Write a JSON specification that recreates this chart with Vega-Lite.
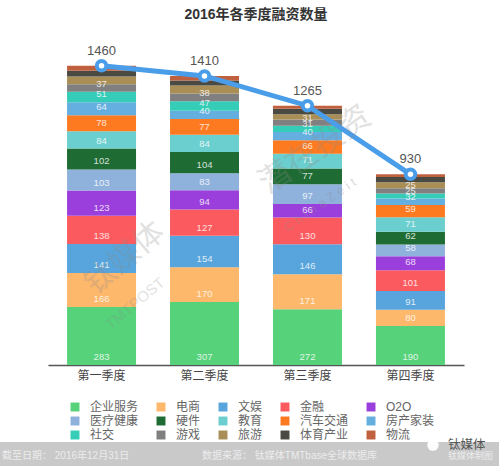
{
  "$schema": "https://vega.github.io/schema/vega-lite/v6.json",
  "description": "2016年各季度融资数量",
  "autosize": {"type": "none"},
  "width": 416,
  "height": 328,
  "padding": {"left": 48, "top": 37, "right": 35, "bottom": 101},
  "background": "white",
  "config": {"font": "Liberation Sans, Noto Sans CJK SC", "view": {"stroke": null}},
  "title": {"text": "2016年各季度融资数量", "fontSize": 14, "fontWeight": "bold", "color": "#333333", "anchor": "middle", "offset": 15},
  "datasets": {
    "totals": [
      {"q": "第一季度", "total": 1460},
      {"q": "第二季度", "total": 1410},
      {"q": "第三季度", "total": 1265},
      {"q": "第四季度", "total": 930}
    ],
    "deals": [
      {"q": "第一季度", "cat": "企业服务", "rank": 0, "n": 283},
      {"q": "第一季度", "cat": "电商", "rank": 1, "n": 166},
      {"q": "第一季度", "cat": "文娱", "rank": 2, "n": 141},
      {"q": "第一季度", "cat": "金融", "rank": 3, "n": 138},
      {"q": "第一季度", "cat": "O2O", "rank": 4, "n": 123},
      {"q": "第一季度", "cat": "医疗健康", "rank": 5, "n": 103},
      {"q": "第一季度", "cat": "硬件", "rank": 6, "n": 102},
      {"q": "第一季度", "cat": "教育", "rank": 7, "n": 84},
      {"q": "第一季度", "cat": "汽车交通", "rank": 8, "n": 78},
      {"q": "第一季度", "cat": "房产家装", "rank": 9, "n": 64},
      {"q": "第一季度", "cat": "社交", "rank": 10, "n": 51},
      {"q": "第一季度", "cat": "游戏", "rank": 11, "n": 37},
      {"q": "第一季度", "cat": "旅游", "rank": 12, "n": 37},
      {"q": "第一季度", "cat": "体育产业", "rank": 13, "n": 28},
      {"q": "第一季度", "cat": "物流", "rank": 14, "n": 25},
      {"q": "第二季度", "cat": "企业服务", "rank": 0, "n": 307},
      {"q": "第二季度", "cat": "电商", "rank": 1, "n": 170},
      {"q": "第二季度", "cat": "文娱", "rank": 2, "n": 154},
      {"q": "第二季度", "cat": "金融", "rank": 3, "n": 127},
      {"q": "第二季度", "cat": "O2O", "rank": 4, "n": 94},
      {"q": "第二季度", "cat": "医疗健康", "rank": 5, "n": 83},
      {"q": "第二季度", "cat": "硬件", "rank": 6, "n": 104},
      {"q": "第二季度", "cat": "教育", "rank": 7, "n": 84},
      {"q": "第二季度", "cat": "汽车交通", "rank": 8, "n": 77},
      {"q": "第二季度", "cat": "房产家装", "rank": 9, "n": 40},
      {"q": "第二季度", "cat": "社交", "rank": 10, "n": 47},
      {"q": "第二季度", "cat": "游戏", "rank": 11, "n": 38},
      {"q": "第二季度", "cat": "旅游", "rank": 12, "n": 38},
      {"q": "第二季度", "cat": "体育产业", "rank": 13, "n": 25},
      {"q": "第二季度", "cat": "物流", "rank": 14, "n": 22},
      {"q": "第三季度", "cat": "企业服务", "rank": 0, "n": 272},
      {"q": "第三季度", "cat": "电商", "rank": 1, "n": 171},
      {"q": "第三季度", "cat": "文娱", "rank": 2, "n": 146},
      {"q": "第三季度", "cat": "金融", "rank": 3, "n": 130},
      {"q": "第三季度", "cat": "O2O", "rank": 4, "n": 66},
      {"q": "第三季度", "cat": "医疗健康", "rank": 5, "n": 97},
      {"q": "第三季度", "cat": "硬件", "rank": 6, "n": 77},
      {"q": "第三季度", "cat": "教育", "rank": 7, "n": 71},
      {"q": "第三季度", "cat": "汽车交通", "rank": 8, "n": 66},
      {"q": "第三季度", "cat": "房产家装", "rank": 9, "n": 40},
      {"q": "第三季度", "cat": "社交", "rank": 10, "n": 31},
      {"q": "第三季度", "cat": "游戏", "rank": 11, "n": 31},
      {"q": "第三季度", "cat": "旅游", "rank": 12, "n": 25},
      {"q": "第三季度", "cat": "体育产业", "rank": 13, "n": 27},
      {"q": "第三季度", "cat": "物流", "rank": 14, "n": 15},
      {"q": "第四季度", "cat": "企业服务", "rank": 0, "n": 190},
      {"q": "第四季度", "cat": "电商", "rank": 1, "n": 80},
      {"q": "第四季度", "cat": "文娱", "rank": 2, "n": 91},
      {"q": "第四季度", "cat": "金融", "rank": 3, "n": 101},
      {"q": "第四季度", "cat": "O2O", "rank": 4, "n": 68},
      {"q": "第四季度", "cat": "医疗健康", "rank": 5, "n": 58},
      {"q": "第四季度", "cat": "硬件", "rank": 6, "n": 62},
      {"q": "第四季度", "cat": "教育", "rank": 7, "n": 71},
      {"q": "第四季度", "cat": "汽车交通", "rank": 8, "n": 59},
      {"q": "第四季度", "cat": "房产家装", "rank": 9, "n": 32},
      {"q": "第四季度", "cat": "社交", "rank": 10, "n": 25},
      {"q": "第四季度", "cat": "游戏", "rank": 11, "n": 25},
      {"q": "第四季度", "cat": "旅游", "rank": 12, "n": 30},
      {"q": "第四季度", "cat": "体育产业", "rank": 13, "n": 25},
      {"q": "第四季度", "cat": "物流", "rank": 14, "n": 13}
    ]
  },
  "resolve": {"scale": {"x": "independent"}},
  "layer": [
    {
      "data": {"values": [{}]},
      "mark": {"type": "rect", "color": "#c9c9c9"},
      "encoding": {
        "x": {"datum": -2, "type": "quantitative", "scale": {"domain": [48, 464]}, "axis": null},
        "x2": {"datum": 501},
        "y": {"datum": -376, "type": "quantitative", "scale": {"domain": [0, 1600], "nice": false}, "axis": null},
        "y2": {"datum": -500}
      }
    },
    {
      "data": {"name": "deals"},
      "transform": [
        {"stack": "n", "groupby": ["q"], "sort": [{"field": "rank", "order": "ascending"}], "as": ["y0", "y1"]}
      ],
      "encoding": {
        "x": {
          "field": "q",
          "type": "nominal",
          "sort": ["第一季度", "第二季度", "第三季度", "第四季度"],
          "scale": {"paddingInner": 0.33, "paddingOuter": 0.185},
          "axis": {"title": null, "labelAngle": 0, "labelFontSize": 12, "labelColor": "#444444", "labelPadding": 5, "ticks": false, "domainColor": "#555555", "domainWidth": 1.5, "grid": false}
        }
      },
      "layer": [
        {
          "mark": {"type": "bar"},
          "encoding": {
            "y": {
              "field": "y0",
              "type": "quantitative",
              "scale": {"domain": [0, 1600], "nice": false},
              "axis": {"title": null, "values": [0, 400, 800, 1200, 1600], "domain": false, "ticks": false, "labelFontSize": 12, "labelColor": "#444444", "labelPadding": 12, "gridColor": "#e4e4e4"}
            },
            "y2": {"field": "y1"},
            "color": {
              "field": "cat",
              "type": "nominal",
              "scale": {
                "domain": ["企业服务", "电商", "文娱", "金融", "O2O", "医疗健康", "硬件", "教育", "汽车交通", "房产家装", "社交", "游戏", "旅游", "体育产业", "物流"],
                "range": ["#55d27a", "#fdb86c", "#57a5dc", "#fb5a5e", "#9b3fdc", "#8fb2dc", "#1e6b34", "#6ccfcf", "#fd7a20", "#65aee0", "#35cdb8", "#808080", "#a98e55", "#4a4a42", "#c0603f"]
              },
              "legend": {
                "title": null,
                "orient": "none",
                "legendX": 21,
                "legendY": 364,
                "columns": 5,
                "gridAlign": "each",
                "columnPadding": 16,
                "rowPadding": 2,
                "values": ["企业服务", "医疗健康", "社交", "电商", "硬件", "游戏", "文娱", "教育", "旅游", "金融", "汽车交通", "体育产业", "O2O", "房产家装", "物流"],
                "symbolType": "square",
                "symbolSize": 80,
                "symbolStrokeWidth": 0,
                "labelFontSize": 12,
                "labelColor": "#666666",
                "labelOffset": 9,
                "padding": 0
              }
            }
          }
        },
        {
          "transform": [{"filter": "datum.rank < 12"}],
          "mark": {"type": "text", "color": "white", "fontSize": 9.5, "baseline": "middle", "dy": -8, "opacity": 0.8},
          "encoding": {
            "y": {"field": "y0", "type": "quantitative"},
            "text": {"field": "n", "type": "quantitative"}
          }
        }
      ]
    },
    {
      "data": {"name": "totals"},
      "encoding": {
        "x": {
          "field": "q",
          "type": "nominal",
          "sort": ["第一季度", "第二季度", "第三季度", "第四季度"],
          "scale": {"type": "band", "paddingInner": 0.33, "paddingOuter": 0.185},
          "axis": null
        },
        "y": {"field": "total", "type": "quantitative", "axis": null}
      },
      "layer": [
        {"mark": {"type": "line", "color": "#4a9de8", "strokeWidth": 5}},
        {"mark": {"type": "point", "shape": "circle", "filled": true, "fill": "white", "stroke": "#4a9de8", "strokeWidth": 4, "size": 90, "opacity": 1}},
        {
          "mark": {"type": "text", "fontSize": 13, "color": "#555555", "baseline": "middle", "dy": -15},
          "encoding": {"text": {"field": "total", "type": "quantitative"}}
        }
      ]
    },
    {
      "data": {"values": [{"t": "截至日期： 2016年12月31日"}]},
      "mark": {"type": "text", "align": "left", "baseline": "middle", "fontSize": 10, "color": "#ececec"},
      "encoding": {
        "x": {"datum": 2, "type": "quantitative", "scale": {"domain": [48, 464]}, "axis": null},
        "y": {"datum": -444, "type": "quantitative", "axis": null},
        "text": {"field": "t"}
      }
    },
    {
      "data": {"values": [{"t": "数据来源： 钛媒体TMTbase全球数据库"}]},
      "mark": {"type": "text", "align": "left", "baseline": "middle", "fontSize": 10, "color": "#ececec"},
      "encoding": {
        "x": {"datum": 202, "type": "quantitative", "scale": {"domain": [48, 464]}, "axis": null},
        "y": {"datum": -444, "type": "quantitative", "axis": null},
        "text": {"field": "t"}
      }
    },
    {
      "data": {"values": [{"t": "钛媒体制图"}]},
      "mark": {"type": "text", "align": "left", "baseline": "middle", "fontSize": 9, "color": "#ececec"},
      "encoding": {
        "x": {"datum": 448, "type": "quantitative", "scale": {"domain": [48, 464]}, "axis": null},
        "y": {"datum": -444, "type": "quantitative", "axis": null},
        "text": {"field": "t"}
      }
    },
    {
      "data": {"values": [{}]},
      "mark": {"type": "point", "shape": "circle", "filled": true, "color": "white", "size": 130, "opacity": 0.95},
      "encoding": {
        "x": {"datum": 433, "type": "quantitative", "scale": {"domain": [48, 464]}, "axis": null},
        "y": {"datum": -391, "type": "quantitative", "axis": null}
      }
    },
    {
      "data": {"values": [{"t": "钛媒体"}]},
      "mark": {"type": "text", "align": "left", "baseline": "middle", "fontSize": 12.5, "color": "#555555"},
      "encoding": {
        "x": {"datum": 448, "type": "quantitative", "scale": {"domain": [48, 464]}, "axis": null},
        "y": {"datum": -391, "type": "quantitative", "axis": null},
        "text": {"field": "t"}
      }
    },
    {
      "data": {"values": [{"t": "钛媒体"}]},
      "mark": {"type": "text", "angle": -40, "fontSize": 31, "color": "#8c8c8c", "opacity": 0.25},
      "encoding": {
        "x": {"datum": 125, "type": "quantitative", "scale": {"domain": [48, 464]}, "axis": null},
        "y": {"datum": 520, "type": "quantitative", "axis": null},
        "text": {"field": "t"}
      }
    },
    {
      "data": {"values": [{"t": "TMTPOST"}]},
      "mark": {"type": "text", "angle": -40, "fontSize": 15, "color": "#8c8c8c", "opacity": 0.25},
      "encoding": {
        "x": {"datum": 135, "type": "quantitative", "scale": {"domain": [48, 464]}, "axis": null},
        "y": {"datum": 300, "type": "quantitative", "axis": null},
        "text": {"field": "t"}
      }
    },
    {
      "data": {"values": [{"t": "潜在投资"}]},
      "mark": {"type": "text", "angle": -35, "fontSize": 32, "color": "#8c8c8c", "opacity": 0.25},
      "encoding": {
        "x": {"datum": 315, "type": "quantitative", "scale": {"domain": [48, 464]}, "axis": null},
        "y": {"datum": 1050, "type": "quantitative", "axis": null},
        "text": {"field": "t"}
      }
    },
    {
      "data": {"values": [{"t": "C h i n a Z e i t"}]},
      "mark": {"type": "text", "angle": -35, "fontSize": 13, "color": "#8c8c8c", "opacity": 0.3},
      "encoding": {
        "x": {"datum": 320, "type": "quantitative", "scale": {"domain": [48, 464]}, "axis": null},
        "y": {"datum": 780, "type": "quantitative", "axis": null},
        "text": {"field": "t"}
      }
    }
  ]
}
